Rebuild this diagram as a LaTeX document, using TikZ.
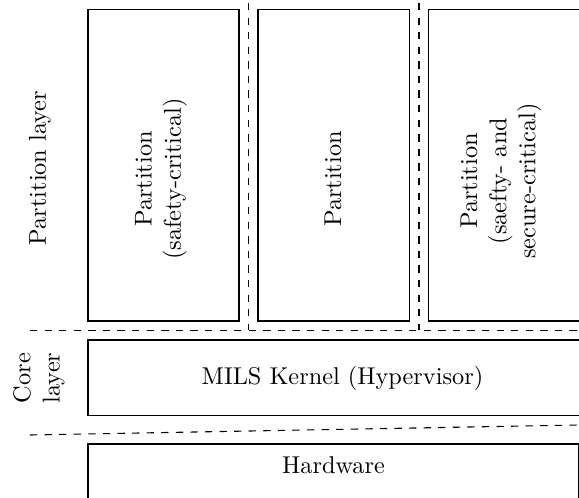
\documentclass[tikz,border=0pt]{standalone}
\begin{document}
\begin{tikzpicture}[x=0.4115pt,y=-0.4115pt,
  layerbox/.style={draw, line width=0.45pt},
  sep/.style={draw, dashed, line width=0.45pt},
  lbl/.style={inner sep=0pt, align=center, font=\normalsize},
  vlbl/.style={lbl, rotate=90}]
  \useasboundingbox (0,0) rectangle (579,498);
  \clip (0,0) rectangle (579,498);

  % partition layer
  \draw[layerbox] (88,9.5) rectangle (239,321);
  \draw[layerbox] (258,9.5) rectangle (409.5,321);
  \draw[layerbox] (428.5,9.5) rectangle (590,321);
  \node[vlbl] (p1) at (161,179) {Partition\\(safety-critical)};
  \node[vlbl] (p2) at (333,179) {Partition};
  \node[vlbl] (p3) at (501,181) {Partition\\(saefty- and\\secure-critical)};
  \node[vlbl] (pl) at (40,168) {Partition layer};

  % separators between partitions and layers
  \coordinate (v1t) at (248.5,3);
  \coordinate (v1b) at (248.5,330.5);
  \coordinate (v2t) at (419,3);
  \coordinate (v2b) at (419,330.5);
  \draw[sep] (v1t) -- (v1b);
  \draw[sep] (v2t) -- (v2b);
  \coordinate (h1l) at (30,330.5);
  \coordinate (h1r) at (579,330.5);
  \draw[sep] (h1l) -- (h1r);

  % core layer
  \draw[layerbox] (88,340) rectangle (596,415.5);
  \node[lbl] (mils) at (342.5,378) {MILS Kernel (Hypervisor)};
  \node[vlbl] (cl) at (39,378) {Core\\layer};

  \coordinate (h2l) at (30,435);
  \coordinate (h2r) at (579,425);
  \draw[sep] (h2l) -- (h2r);

  % hardware
  \draw[layerbox] (88,444) rectangle (579,520);
  \node[lbl] (hw) at (333.5,465) {Hardware};
\end{tikzpicture}
\end{document}
